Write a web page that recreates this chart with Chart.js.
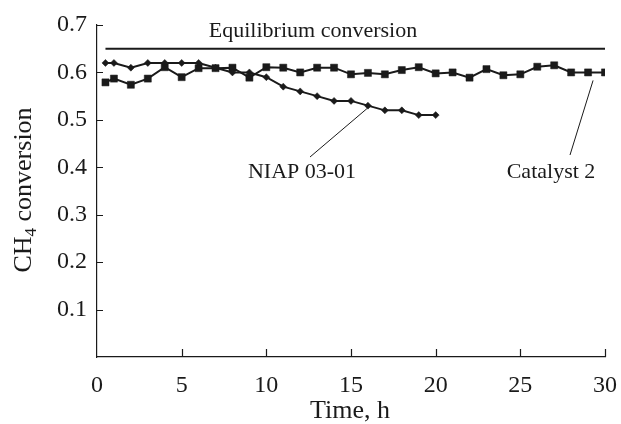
<!DOCTYPE html>
<html lang="en">
<head>
<meta charset="UTF-8">
<title>CH4 conversion</title>
<script src="https://cdn.jsdelivr.net/npm/chart.js"></script>
<style>
  html, body { margin: 0; padding: 0; background: #fff; }
  #wrap { width: 621px; height: 424px; }
</style>
</head>
<body>
<div id="wrap"><canvas id="chart"></canvas></div>
<script>
// time, h
const niapTimes = [0.5, 1, 2, 3, 4, 5, 6, 7, 8, 9, 10, 11, 12, 13, 14, 15, 16, 17, 18, 19, 20];
const niapValues = [0.62, 0.62, 0.61, 0.62, 0.62, 0.62, 0.62, 0.61, 0.60, 0.60, 0.59, 0.57, 0.56, 0.55, 0.54, 0.54, 0.53, 0.52, 0.52, 0.51, 0.51];

const catTimes = [0.5, 1, 2, 3, 4, 5, 6, 7, 8, 9, 10, 11, 12, 13, 14, 15, 16, 17, 18, 19, 20, 21, 22, 23, 24, 25, 26, 27, 28, 29, 30];
const catValues = [0.579, 0.587, 0.574, 0.587, 0.611, 0.590, 0.609, 0.609, 0.610, 0.589, 0.611, 0.610, 0.600, 0.610, 0.610, 0.596, 0.599, 0.596, 0.605, 0.611, 0.598, 0.600, 0.589, 0.607, 0.594, 0.596, 0.612, 0.615, 0.600, 0.600, 0.600];

const eqTimes = [0.5, 30];
const eqValues = [0.65, 0.65];

const xTicks = [0, 5, 10, 15, 20, 25, 30];
const yTicks = [0, 0.1, 0.2, 0.3, 0.4, 0.5, 0.6, 0.7];

const ink = '#1a1a1a';
const serif = '"Liberation Serif", "DejaVu Serif", serif';

function pts(xs, ys) {
    return xs.map((x, i) => ({x: x, y: ys[i]}));
}

// inward tick marks, labels and axis titles
const extras = {
    id: 'extras',
    afterDraw(chart) {
        const ctx = chart.ctx;
        const xs = chart.scales.x, ys = chart.scales.y;
        const area = chart.chartArea;
        ctx.save();
        ctx.strokeStyle = ink;
        ctx.lineWidth = 1.2;
        ctx.beginPath();
        xTicks.forEach(v => {
            if (v === 0) return;
            const px = Math.round(xs.getPixelForValue(v)) + 0.5;
            ctx.moveTo(px, area.bottom);
            ctx.lineTo(px, area.bottom - 8);
        });
        yTicks.forEach(v => {
            if (v === 0) return;
            const py = Math.round(ys.getPixelForValue(v)) + 0.5;
            ctx.moveTo(area.left, py);
            ctx.lineTo(area.left + 6, py);
        });
        ctx.stroke();

        // leader lines
        ctx.lineWidth = 1;
        ctx.beginPath();
        ctx.moveTo(310, 157);
        ctx.lineTo(xs.getPixelForValue(niapTimes[16]) - 1, ys.getPixelForValue(niapValues[16]) + 3);
        ctx.moveTo(570, 155);
        ctx.lineTo(xs.getPixelForValue(catTimes[29]) + 5, ys.getPixelForValue(catValues[29]) + 8);
        ctx.stroke();

        ctx.fillStyle = ink;
        ctx.font = '22px ' + serif;
        ctx.textBaseline = 'alphabetic';
        ctx.textAlign = 'center';
        ctx.fillText('Equilibrium conversion', 313, 37);
        ctx.fillText('NIAP 03-01', 302, 178);
        ctx.fillText('Catalyst 2', 551, 178);
        ctx.font = '26px ' + serif;
        ctx.fillText('Time, h', 350, 418);

        // y title with subscript
        ctx.translate(31, 190);
        ctx.rotate(-Math.PI / 2);
        ctx.textAlign = 'left';
        const a = 'CH', b = '4', c = ' conversion';
        ctx.font = '26px ' + serif;
        const wa = ctx.measureText(a).width, wc = ctx.measureText(c).width;
        ctx.font = '17px ' + serif;
        const wb = ctx.measureText(b).width;
        let x0 = -(wa + wb + wc) / 2;
        ctx.font = '26px ' + serif;
        ctx.fillText(a, x0, 0);
        ctx.font = '17px ' + serif;
        ctx.fillText(b, x0 + wa, 5);
        ctx.font = '26px ' + serif;
        ctx.fillText(c, x0 + wa + wb, 0);
        ctx.restore();
    }
};

new Chart(document.getElementById('chart'), {
    type: 'line',
    data: {
        datasets: [
            {
                label: 'Equilibrium conversion',
                data: pts(eqTimes, eqValues),
                borderColor: ink,
                borderWidth: 2,
                pointRadius: 0
            },
            {
                label: 'NIAP 03-01',
                data: pts(niapTimes, niapValues),
                borderColor: ink,
                borderWidth: 2,
                pointStyle: 'rectRot',
                pointRadius: 3.5,
                pointBackgroundColor: ink,
                pointBorderColor: ink,
                pointBorderWidth: 0.5
            },
            {
                label: 'Catalyst 2',
                data: pts(catTimes, catValues),
                borderColor: ink,
                borderWidth: 2,
                pointStyle: 'rect',
                pointRadius: 5,
                pointBackgroundColor: ink,
                pointBorderColor: ink,
                pointBorderWidth: 0.5
            }
        ]
    },
    options: {
        responsive: true,
        maintainAspectRatio: false,
        animation: false,
        layout: { padding: { left: 0, top: 25, right: 16, bottom: 0 } },
        plugins: { legend: { display: false }, tooltip: { enabled: false } },
        scales: {
            x: {
                type: 'linear',
                min: 0,
                max: 30,
                afterBuildTicks: s => { s.ticks = xTicks.map(v => ({value: v})); },
                afterFit: s => { s.height = 67; s.paddingLeft = 0; s.paddingRight = 0; },
                grid: { display: false, drawTicks: false },
                border: { color: ink, width: 1.2 },
                ticks: { color: ink, font: { family: serif, size: 24 }, padding: 14, maxRotation: 0 }
            },
            y: {
                type: 'linear',
                min: 0,
                max: 0.7,
                afterBuildTicks: s => { s.ticks = yTicks.map(v => ({value: v})); },
                afterFit: s => { s.width = 97; s.paddingTop = 0; s.paddingBottom = 0; },
                grid: { display: false, drawTicks: false },
                border: { color: ink, width: 1.2 },
                ticks: {
                    color: ink,
                    font: { family: serif, size: 24 },
                    padding: 10,
                    callback: v => v === 0 ? '' : v.toFixed(1)
                }
            }
        }
    },
    plugins: [extras]
});
</script>
</body>
</html>
